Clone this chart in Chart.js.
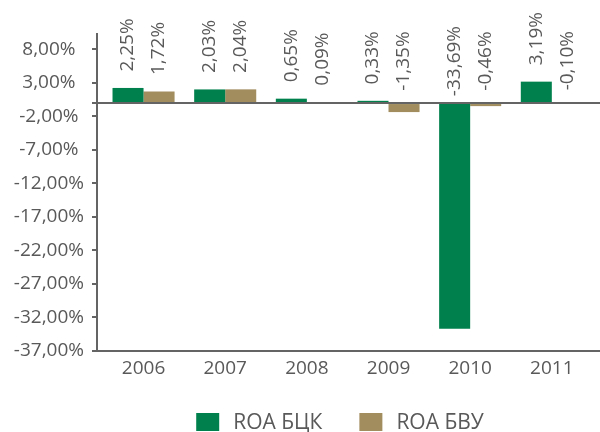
<!DOCTYPE html>
<html><head><meta charset="utf-8">
<script src="https://cdn.jsdelivr.net/npm/chart.js@4/dist/chart.umd.min.js"></script>
<style>html,body{margin:0;padding:0;background:#fff;}#wrap{width:600px;height:432px;}</style>
</head><body><div id="wrap"><canvas id="c" width="600" height="432"></canvas></div>
<script>
const years = ['2006', '2007', '2008', '2009', '2010', '2011'];
const roaBck = [2.25, 2.03, 0.65, 0.33, -33.69, 3.19];
const roaBvu = [1.72, 2.04, 0.09, -1.35, -0.46, -0.10];
const yTickValues = [-37, -32, -27, -22, -17, -12, -7, -2, 3, 8];
const seriesNames = ['ROA БЦК', 'ROA БВУ'];
const seriesColors = ['#00804c', '#a18d5e'];

const FONT = {family: '"Open Sans", sans-serif', size: 19};
const LEGEND_FONT_SIZE = 21;
const TEXT = '#595959';
const AXIS = '#646464';
const fmt = v => v.toFixed(2).replace('.', ',') + '%';

const labelPlugin = {
  id: 'barLabels',
  afterDatasetsDraw(chart) {
    const ctx = chart.ctx;
    ctx.save();
    ctx.font = FONT.size + 'px ' + FONT.family;
    ctx.fillStyle = TEXT;
    ctx.textAlign = 'center';
    ctx.textBaseline = 'middle';
    chart.data.datasets.forEach((ds, i) => {
      const meta = chart.getDatasetMeta(i);
      meta.data.forEach((el, j) => {
        const anchor = Math.min(el.y, el.base);
        ctx.save();
        ctx.translate(el.x, anchor - 43);
        ctx.rotate(-Math.PI / 2);
        ctx.fillText(fmt(ds.data[j].y), 0, 0);
        ctx.restore();
      });
    });
    ctx.restore();
  }
};

const legendPlugin = {
  id: 'customLegend',
  afterDraw(chart) {
    const ctx = chart.ctx;
    ctx.save();
    ctx.font = LEGEND_FONT_SIZE + 'px ' + FONT.family;
    const boxW = 23, boxH = 18, gap = 14, spacing = 37;
    const widths = chart.data.datasets.map(d => ctx.measureText(d.label).width);
    const total = widths.reduce((a, w) => a + boxW + gap + w, 0) + spacing * (widths.length - 1);
    let x = 340 - total / 2;
    const cy = 422;
    chart.data.datasets.forEach((d, i) => {
      ctx.fillStyle = d.backgroundColor;
      ctx.fillRect(x, cy - boxH / 2, boxW, boxH);
      x += boxW + gap;
      ctx.fillStyle = TEXT;
      ctx.textAlign = 'left';
      ctx.textBaseline = 'middle';
      ctx.fillText(d.label, x, cy + 1);
      x += widths[i] + spacing;
    });
    ctx.restore();
  }
};

new Chart(document.getElementById('c'), {
  type: 'bar',
  data: {
    datasets: [
      {label: seriesNames[0], data: roaBck.map((v, i) => ({x: i, y: v})), backgroundColor: seriesColors[0]},
      {label: seriesNames[1], data: roaBvu.map((v, i) => ({x: i, y: v})), backgroundColor: seriesColors[1]}
    ]
  },
  options: {
    responsive: false,
    animation: false,
    devicePixelRatio: 1,
    layout: {padding: {top: 34, right: 0, bottom: 51, left: 0}},
    datasets: {bar: {categoryPercentage: 0.76, barPercentage: 1, borderWidth: 0}},
    plugins: {legend: {display: false}, tooltip: {enabled: false}},
    scales: {
      x: {
        type: 'linear', min: -0.57, max: 5.59, offset: false,
        afterBuildTicks: s => { s.ticks = years.map((_, i) => ({value: i})); },
        afterFit: s => { s.height = 30; },
        ticks: {autoSkip: false, font: FONT, color: TEXT, padding: 6, maxRotation: 0,
                callback: v => years[v]},
        grid: {display: false, drawTicks: false, offset: false},
        border: {display: true, color: AXIS, width: 2}
      },
      xZero: {
        type: 'linear', min: -0.57, max: 5.59, position: {y: 0}, offset: false,
        ticks: {display: false},
        grid: {display: false, drawTicks: false, offset: false},
        border: {display: true, color: AXIS, width: 2, z: 1}
      },
      y: {
        min: -37, max: 10.3,
        afterBuildTicks: s => { s.ticks = yTickValues.concat([0]).sort((a, b) => a - b).map(v => ({value: v})); },
        afterFit: s => { s.width = 97; },
        ticks: {font: FONT, color: TEXT, padding: 8, crossAlign: 'center',
                callback: v => (yTickValues.includes(v) ? fmt(v) : '')},
        grid: {drawOnChartArea: false, drawTicks: true, tickLength: 5, color: AXIS, lineWidth: 2},
        border: {display: true, color: AXIS, width: 2}
      }
    }
  },
  plugins: [labelPlugin, legendPlugin]
});
</script></body></html>
